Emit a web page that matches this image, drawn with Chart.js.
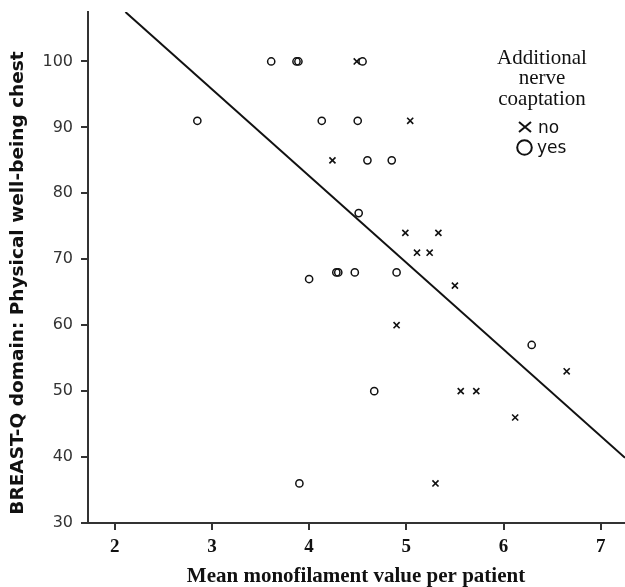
<!DOCTYPE html>
<html>
<head>
<meta charset="utf-8">
<script src="https://cdn.jsdelivr.net/npm/chart.js@4"></script>
<style>
  body { margin: 0; background: #fff; }
</style>
</head>
<body>
<canvas id="scatterChart" width="625" height="587"></canvas>
<script>
// values
const xTicks = [2, 3, 4, 5, 6, 7];
const yTicks = [30, 40, 50, 60, 70, 80, 90, 100];

// additional nerve coaptation: yes (circles)
const yesX = [3.61, 3.87, 3.89, 4.55, 2.85, 4.13, 4.50, 4.60, 4.85, 4.51, 4.00, 4.28, 4.30, 4.47, 4.90, 4.67, 3.90, 6.29];
const yesY = [100, 100, 100, 100, 91, 91, 91, 85, 85, 77, 67, 68, 68, 68, 68, 50, 36, 57];

// additional nerve coaptation: no (crosses)
const noX = [4.49, 5.04, 4.24, 4.99, 5.33, 5.11, 5.24, 5.50, 4.90, 6.65, 5.56, 5.72, 6.12, 5.30];
const noY = [100, 91, 85, 74, 74, 71, 71, 66, 60, 53, 50, 50, 46, 36];

// fit line end points
const fitX = [2.11, 7.25];
const fitY = [107.5, 39.9];

const legendTitle = ['Additional', 'nerve', 'coaptation'];
const legendLabels = ['no', 'yes'];

const toPoints = (xs, ys) => xs.map((x, i) => ({ x: x, y: ys[i] }));

const ink = '#111';
const axisColor = '#333';

// axis titles and the little legend box are drawn by hand
const extrasPlugin = {
    id: 'extras',
    afterDraw(chart) {
        const ctx = chart.ctx;
        ctx.save();
        ctx.fillStyle = ink;
        ctx.strokeStyle = ink;

        // y title
        ctx.save();
        ctx.translate(18, 283);
        ctx.rotate(-Math.PI / 2);
        ctx.font = 'bold 18.5px "DejaVu Sans"';
        ctx.textAlign = 'center';
        ctx.textBaseline = 'middle';
        ctx.fillText('BREAST-Q domain: Physical well-being chest', 0, 0);
        ctx.restore();

        // x title
        ctx.font = 'bold 21px "Liberation Serif"';
        ctx.textAlign = 'center';
        ctx.textBaseline = 'alphabetic';
        ctx.fillText('Mean monofilament value per patient', 356, 582);

        // legend
        ctx.font = '21px "Liberation Serif"';
        legendTitle.forEach((t, i) => ctx.fillText(t, 542, 63.5 + i * 20.5));

        ctx.lineWidth = 2;
        ctx.beginPath();
        ctx.moveTo(519, 122); ctx.lineTo(531, 132);
        ctx.moveTo(531, 122); ctx.lineTo(519, 132);
        ctx.stroke();
        ctx.beginPath();
        ctx.arc(524.5, 147.5, 7.3, 0, Math.PI * 2);
        ctx.stroke();

        ctx.font = '17px "DejaVu Sans"';
        ctx.textAlign = 'left';
        ctx.fillText(legendLabels[0], 538, 133);
        ctx.fillText(legendLabels[1], 537, 153);
        ctx.restore();
    }
};

document.addEventListener('DOMContentLoaded', function () {
    const ctx = document.getElementById('scatterChart').getContext('2d');

    const chartData = {
        datasets: [{
            label: 'no',
            data: toPoints(noX, noY),
            pointStyle: 'crossRot',
            pointRadius: 4.3,
            pointBorderWidth: 1.6,
            borderColor: ink,
            backgroundColor: ink
        }, {
            label: 'yes',
            data: toPoints(yesX, yesY),
            pointStyle: 'circle',
            pointRadius: 3.6,
            pointBorderWidth: 1.5,
            borderColor: ink,
            backgroundColor: 'rgba(0,0,0,0)'
        }, {
            label: 'fit',
            data: toPoints(fitX, fitY),
            showLine: true,
            pointRadius: 0,
            borderWidth: 2,
            borderColor: ink
        }]
    };

    const config = {
        type: 'scatter',
        data: chartData,
        options: {
            responsive: false,
            animation: false,
            events: [],
            layout: {
                autoPadding: false,
                padding: { top: 12, left: 0, right: 0, bottom: 0 }
            },
            plugins: {
                legend: { display: false },
                tooltip: { enabled: false }
            },
            scales: {
                x: {
                    type: 'linear',
                    min: 1.725,
                    max: 7.25,
                    afterBuildTicks: scale => { scale.ticks = xTicks.map(v => ({ value: v })); },
                    afterFit: scale => {
                        scale.height = 64;
                        scale.paddingLeft = 0;
                        scale.paddingRight = 0;
                    },
                    grid: {
                        drawOnChartArea: false,
                        drawTicks: true,
                        tickLength: 7,
                        lineWidth: 2,
                        color: axisColor
                    },
                    border: { display: true, color: axisColor, width: 2 },
                    ticks: {
                        padding: 6,
                        color: ink,
                        font: { family: '"Liberation Serif"', size: 19, weight: 'bold' }
                    }
                },
                y: {
                    type: 'linear',
                    min: 30,
                    max: 107.5,
                    afterBuildTicks: scale => { scale.ticks = yTicks.map(v => ({ value: v })); },
                    afterFit: scale => {
                        scale.width = 88;
                        scale.paddingTop = 0;
                        scale.paddingBottom = 0;
                    },
                    grid: {
                        drawOnChartArea: false,
                        drawTicks: true,
                        tickLength: 7,
                        lineWidth: 2,
                        color: axisColor
                    },
                    border: { display: true, color: axisColor, width: 2 },
                    ticks: {
                        padding: 8,
                        color: '#333',
                        font: { family: '"DejaVu Sans"', size: 16 }
                    }
                }
            }
        },
        plugins: [extrasPlugin]
    };

    new Chart(ctx, config);
});
</script>
</body>
</html>
